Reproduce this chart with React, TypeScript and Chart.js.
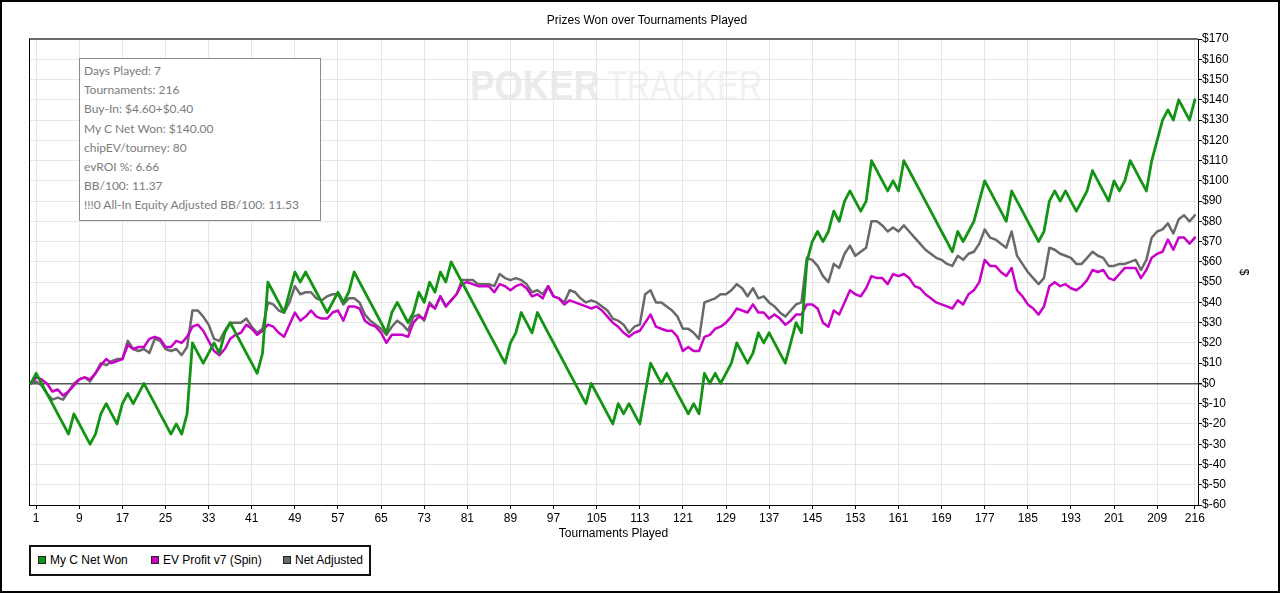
import React, { useEffect, useRef } from 'react';
import { Chart, registerables } from 'chart.js';

Chart.register(...registerables);

// Cumulative results per tournament (index 0 = start)
const netWon = [
  0, 5, 0, -5, -10, -15, -20, -25, -15, -20,
  -25, -30, -25, -15, -10, -15, -20, -10, -5, -10,
  -5, 0, -5, -10, -15, -20, -25, -20, -25, -15,
  20, 15, 10, 15, 20, 15, 25, 30, 25, 20,
  15, 10, 5, 15, 50, 45, 40, 35, 45, 55,
  50, 55, 50, 45, 40, 35, 40, 45, 40, 45,
  55, 50, 45, 40, 35, 30, 25, 35, 40, 35,
  30, 35, 45, 40, 50, 45, 55, 50, 60, 55,
  50, 45, 40, 35, 30, 25, 20, 15, 10, 20,
  25, 35, 30, 25, 35, 30, 25, 20, 15, 10,
  5, 0, -5, -10, 0, -5, -10, -15, -20, -10,
  -15, -10, -15, -20, -5, 10, 5, 0, 5, 0,
  -5, -10, -15, -10, -15, 5, 0, 5, 0, 5,
  10, 20, 15, 10, 15, 25, 20, 25, 20, 15,
  10, 20, 30, 25, 60, 70, 75, 70, 75, 85,
  80, 90, 95, 90, 85, 90, 110, 105, 100, 95,
  100, 95, 110, 105, 100, 95, 90, 85, 80, 75,
  70, 65, 75, 70, 75, 80, 90, 100, 95, 90,
  85, 80, 95, 90, 85, 80, 75, 70, 75, 90,
  95, 90, 95, 90, 85, 90, 95, 105, 100, 95,
  90, 100, 95, 100, 110, 105, 100, 95, 110, 120,
  130, 135, 130, 140, 135, 130, 140,
];

const evProfit = [
  0, 3, 2, 0, -4, -3, -6, -4, -1, 2,
  3, 2, 5, 9, 12, 10, 11, 12, 19, 17,
  18, 18, 22, 23, 22, 18, 18, 21, 20, 23,
  28, 29, 26, 21, 16, 14, 17, 22, 24, 25,
  29, 27, 24, 26, 29, 28, 25, 23, 29, 35,
  31, 33, 36, 33, 32, 32, 35, 36, 31, 38,
  38, 37, 31, 29, 28, 25, 20, 24, 24, 24,
  23, 30, 33, 32, 39, 37, 43, 38, 41, 44,
  49, 50, 49, 48, 48, 48, 45, 49, 48, 46,
  48, 49, 47, 43, 44, 42, 48, 43, 42, 39,
  41, 40, 39, 38, 37, 38, 36, 33, 30, 28,
  25, 23, 25, 26, 30, 34, 28, 27, 26, 26,
  23, 16, 18, 16, 16, 23, 24, 27, 28, 30,
  33, 37, 36, 35, 39, 35, 35, 32, 34, 32,
  29, 31, 34, 34, 39, 39, 37, 30, 28, 36,
  34, 40, 46, 44, 43, 47, 53, 52, 52, 49,
  54, 53, 54, 52, 48, 47, 44, 42, 40, 39,
  38, 37, 41, 39, 44, 46, 50, 61, 58, 58,
  55, 53, 57, 46, 43, 39, 37, 34, 38, 48,
  50, 48, 49, 47, 46, 48, 51, 56, 55, 56,
  52, 51, 54, 57, 57, 57, 52, 56, 62, 64,
  65, 71, 66, 72, 72, 69, 72,
];

const netAdjusted = [
  0, 1, -1, -5, -8, -7, -8, -4, 0, 2,
  3, 1, 5, 10, 9, 11, 12, 12, 21, 17,
  16, 17, 15, 22, 21, 17, 16, 17, 14, 18,
  36, 36, 33, 29, 22, 21, 26, 30, 30, 30,
  32, 28, 25, 27, 40, 39, 36, 35, 40, 48,
  44, 45, 45, 42, 41, 43, 44, 44, 39, 42,
  42, 40, 34, 31, 29, 27, 24, 28, 31, 29,
  26, 33, 34, 31, 40, 37, 43, 38, 41, 44,
  51, 51, 51, 49, 49, 49, 48, 54, 52, 51,
  52, 51, 49, 45, 46, 44, 48, 43, 42, 40,
  46, 45, 42, 40, 41, 40, 38, 36, 32, 31,
  29, 25, 28, 29, 44, 46, 40, 40, 38, 36,
  33, 27, 27, 25, 22, 40, 41, 42, 44, 44,
  46, 49, 47, 43, 47, 42, 43, 40, 38, 35,
  33, 36, 39, 40, 62, 61, 58, 53, 50, 59,
  57, 64, 68, 63, 65, 67, 80, 80, 78, 75,
  77, 75, 78, 75, 72, 69, 66, 64, 62, 61,
  59, 58, 63, 61, 64, 65, 69, 76, 72, 71,
  69, 67, 75, 63, 59, 55, 52, 49, 52, 67,
  66, 64, 63, 62, 59, 59, 62, 65, 63, 62,
  58, 58, 59, 59, 60, 61, 56, 61, 72, 75,
  76, 79, 74, 81, 83, 80, 83,
];

const tournamentNumbers = netWon.map((_, i) => i);

const xTickValues = [1, 9, 17, 25, 33, 41, 49, 57, 65, 73, 81, 89, 97, 105, 113, 121, 129, 137, 145, 153, 161, 169, 177, 185, 193, 201, 209, 216];
const yTickValues = [-60, -50, -40, -30, -20, -10, 0, 10, 20, 30, 40, 50, 60, 70, 80, 90, 100, 110, 120, 130, 140, 150, 160, 170];

const seriesNames = ['My C Net Won', 'EV Profit v7 (Spin)', 'Net Adjusted'];
const seriesColors = ['#149414', '#c800c8', '#696969'];

const infoLines = [
  'Days Played: 7',
  'Tournaments: 216',
  'Buy-In: $4.60+$0.40',
  'My C Net Won: $140.00',
  'chipEV/tourney: 80',
  'evROI %: 6.66',
  'BB/100: 11.37',
  '!!!0 All-In Equity Adjusted BB/100: 11.53',
];

const chartTitle = 'Prizes Won over Tournaments Played';
const xTitle = 'Tournaments Played';
const yTitle = '$';

const FONT = '"Liberation Sans", Arial, sans-serif';

const framePlugin = {
  id: 'plotFrame',
  beforeDatasetsDraw(chart: any) {
    const { ctx, chartArea: a } = chart;
    ctx.save();
    ctx.strokeStyle = '#6a6a6a';
    ctx.lineWidth = 2;
    ctx.beginPath();
    ctx.moveTo(a.left, a.top);
    ctx.lineTo(a.right, a.top);
    ctx.stroke();
    ctx.strokeStyle = '#000';
    ctx.lineWidth = 1;
    ctx.beginPath();
    ctx.moveTo(a.left + 0.5, a.top);
    ctx.lineTo(a.left + 0.5, a.bottom);
    ctx.stroke();
    ctx.restore();
  },
};

export default function App() {
  const ref = useRef<HTMLCanvasElement>(null);

  useEffect(() => {
    if (!ref.current) return;
    const widths = [2.8, 2.5, 2.5];
    const series = [netWon, evProfit, netAdjusted];
    const chart = new Chart(ref.current, {
      type: 'line',
      data: {
        labels: tournamentNumbers,
        datasets: series.map((d, k) => ({
          label: seriesNames[k],
          data: d,
          borderColor: seriesColors[k],
          backgroundColor: seriesColors[k],
          borderWidth: widths[k],
          pointRadius: 0,
          pointHoverRadius: 0,
          tension: 0,
          fill: false,
          borderJoinStyle: 'round' as const,
          borderCapStyle: 'round' as const,
        })),
      },
      options: {
        animation: false,
        responsive: true,
        maintainAspectRatio: false,
        events: [],
        layout: { padding: { left: 29, top: 39, right: 0, bottom: 0 } },
        plugins: {
          legend: { display: false },
          tooltip: { enabled: false },
          title: { display: false },
        },
        scales: {
          x: {
            type: 'linear',
            min: -0.33,
            max: 216.58,
            afterBuildTicks: (s: any) => {
              s.ticks = xTickValues.map((v) => ({ value: v }));
            },
            afterFit: (s: any) => {
              s.height = 88;
            },
            ticks: {
              autoSkip: false,
              maxRotation: 0,
              minRotation: 0,
              padding: 2,
              color: '#000',
              font: { family: FONT, size: 12 },
              callback: (v: any) => String(v),
            },
            grid: {
              color: '#e6e6e6',
              lineWidth: 1,
              tickColor: '#000',
              tickLength: 4,
              drawTicks: true,
            },
            border: { color: '#000', width: 1 },
            title: {
              display: true,
              text: xTitle,
              color: '#000',
              font: { family: FONT, size: 12 },
              padding: { top: 0, bottom: 52 },
            },
          },
          y: {
            type: 'linear',
            position: 'right',
            min: -60,
            max: 170,
            afterBuildTicks: (s: any) => {
              s.ticks = yTickValues.map((v) => ({ value: v }));
            },
            afterFit: (s: any) => {
              s.width = 82;
            },
            ticks: {
              padding: 0,
              color: '#000',
              font: { family: FONT, size: 12 },
              callback: (v: any) => '$' + v,
            },
            grid: {
              color: (c: any) => (c.tick && c.tick.value === 0 ? '#555555' : '#e6e6e6'),
              lineWidth: (c: any) => (c.tick && c.tick.value === 0 ? 1.5 : 1),
              tickColor: '#000',
              tickLength: 4,
              drawTicks: true,
            },
            border: { color: '#000', width: 1 },
            title: {
              display: true,
              text: yTitle,
              color: '#000',
              font: { family: FONT, size: 12 },
              padding: { top: 29, bottom: 0 },
            },
          },
        },
      } as any,
      plugins: [framePlugin],
    });
    return () => chart.destroy();
  }, []);

  const legendPos = [
    { box: 38, text: 50 },
    { box: 151, text: 163 },
    { box: 283, text: 295 },
  ];

  return (
    <div
      style={{
        position: 'absolute',
        left: 0,
        top: 0,
        width: 1280,
        height: 593,
        overflow: 'hidden',
        background: '#fff',
        fontFamily: FONT,
      }}
    >
      {/* watermark */}
      <div style={{ position: 'absolute', left: 470, top: 64, height: 43, lineHeight: '43px', fontSize: 43, whiteSpace: 'nowrap', zIndex: 0 }}>
        <span
          style={{
            position: 'absolute',
            left: 0,
            top: 0,
            fontWeight: 'bold',
            color: '#ebebeb',
            transform: 'scaleX(0.85)',
            transformOrigin: 'left top',
          }}
        >
          POKER
        </span>
        <span
          style={{
            position: 'absolute',
            left: 137,
            top: 0,
            color: '#f1f1f1',
            transform: 'scaleX(0.755)',
            transformOrigin: 'left top',
          }}
        >
          TRACKER
        </span>
      </div>

      <div style={{ position: 'absolute', left: 0, top: 0, width: 1280, height: 593, zIndex: 1 }}>
        <canvas ref={ref} />
      </div>

      {/* title */}
      <div
        style={{
          position: 'absolute',
          left: 0,
          top: 13,
          width: 1294,
          textAlign: 'center',
          fontSize: 12,
          lineHeight: '14px',
          color: '#000',
          zIndex: 2,
        }}
      >
        {chartTitle}
      </div>

      {/* info box */}
      <div
        style={{
          position: 'absolute',
          left: 79,
          top: 58,
          width: 242,
          height: 163,
          boxSizing: 'border-box',
          border: '1px solid #8a8a8a',
          background: '#fff',
          padding: '2px 0 0 4px',
          fontFamily: 'Lato, "Open Sans", sans-serif',
          fontSize: 12,
          lineHeight: '19.2px',
          color: '#7c7c7c',
          whiteSpace: 'nowrap',
          zIndex: 2,
        }}
      >
        {infoLines.map((l, i) => (
          <div key={i}>{l}</div>
        ))}
      </div>

      {/* legend */}
      <div
        style={{
          position: 'absolute',
          left: 29,
          top: 545,
          width: 342,
          height: 31,
          boxSizing: 'border-box',
          border: '2px solid #111',
          background: '#fff',
          zIndex: 2,
        }}
      />
      {seriesNames.map((n, k) => (
        <React.Fragment key={n}>
          <div
            style={{
              position: 'absolute',
              left: legendPos[k].box,
              top: 556,
              width: 8,
              height: 8,
              boxSizing: 'border-box',
              border: '1px solid #222',
              background: seriesColors[k],
              zIndex: 3,
            }}
          />
          <div
            style={{
              position: 'absolute',
              left: legendPos[k].text,
              top: 553,
              fontSize: 12,
              lineHeight: '14px',
              color: '#000',
              whiteSpace: 'nowrap',
              zIndex: 3,
            }}
          >
            {n}
          </div>
        </React.Fragment>
      ))}

      {/* outer frame */}
      <div
        style={{
          position: 'absolute',
          left: 0,
          top: 0,
          width: 1280,
          height: 593,
          boxSizing: 'border-box',
          border: '2px solid #000',
          pointerEvents: 'none',
          zIndex: 4,
        }}
      />
    </div>
  );
}
